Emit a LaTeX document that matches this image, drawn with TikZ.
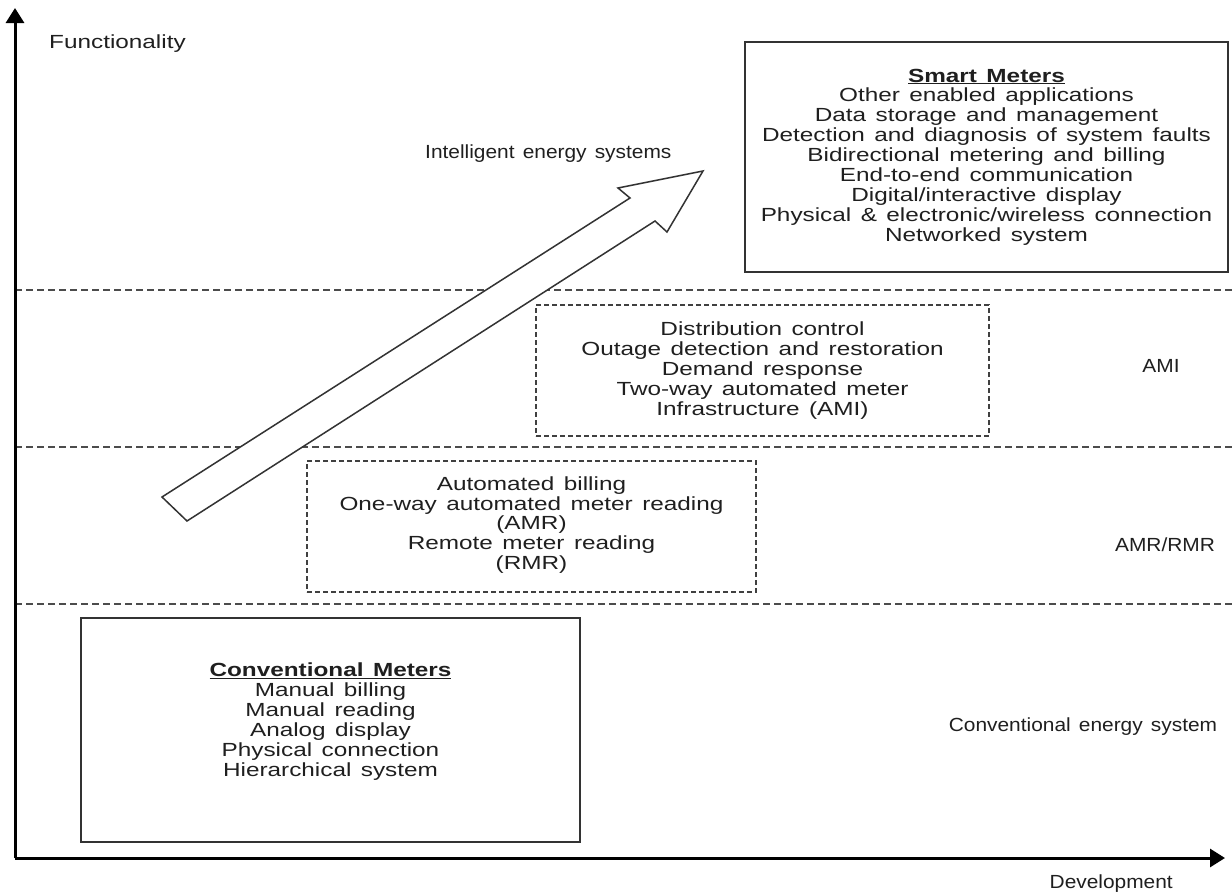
\documentclass[tikz,border=0pt]{standalone}
\usepackage{fontspec}
\setmainfont{Liberation Sans}[FakeStretch=1.28,WordSpace=1.4]
\newfontfamily\sidefam{Liberation Sans}[FakeStretch=1.1,WordSpace=1.4]
\usetikzlibrary{arrows.meta}
\begin{document}
\begin{tikzpicture}[x=1pt,y=-1pt,
  font=\fontsize{19}{19.9}\selectfont,
  axis/.style={line width=3pt, draw=black, -{Triangle[width=18pt,length=15pt]}},
  band/.style={draw=black!70, line width=1.2pt, dash pattern=on 7pt off 4pt},
  solidbox/.style={draw=black!80, line width=1.5pt, rectangle, inner sep=0pt},
  dashbox/.style={draw=black!75, line width=1.2pt, dash pattern=on 5pt off 3pt, rectangle, inner sep=0pt},
  lbl/.style={align=center, inner sep=0pt, text=black!88},
  side/.style={lbl, font=\sidefam\fontsize{19}{20}\selectfont},
  bigarrow/.style={draw=black!80, line width=1.5pt, fill=white, line join=miter}
]
\useasboundingbox (0,0) rectangle (1232,894);

% separators
\coordinate (s1L) at (15,290);  \coordinate (s1R) at (1232,290);
\coordinate (s2L) at (15,447);  \coordinate (s2R) at (1232,447);
\coordinate (s3L) at (15,604);  \coordinate (s3R) at (1232,604);
\draw[band] (s1L) -- (s1R);
\draw[band] (s2L) -- (s2R);
\draw[band] (s3L) -- (s3R);

% axes
\coordinate (O) at (15,858);
\coordinate (ytip) at (15,8);
\coordinate (xtip) at (1225,858);
\draw[axis] (O) -- (ytip);
\draw[axis] (O) -- (xtip);
\node[lbl, anchor=west] (func) at (49,44) {Functionality};
\node[side, anchor=east] (dev) at (1173,884) {Development};

% boxes
\node[solidbox, minimum width=483pt, minimum height=230pt] (smartbox) at (986.5,157) {};
\node[dashbox, minimum width=453pt, minimum height=131pt] (amibox) at (762.5,370.5) {};
\node[dashbox, minimum width=449pt, minimum height=131pt] (amrbox) at (531.5,526.5) {};
\node[solidbox, minimum width=499pt, minimum height=224pt] (convbox) at (330.5,730) {};

\node[lbl] (smarttxt) at (986.5,157) {\underline{\textbf{Smart Meters}}\\
Other enabled applications\\
Data storage and management\\
Detection and diagnosis of system faults\\
Bidirectional metering and billing\\
End-to-end communication\\
Digital/interactive display\\
Physical \& electronic/wireless connection\\
Networked system};

\node[lbl] (amitxt) at (762.5,370.5) {Distribution control\\
Outage detection and restoration\\
Demand response\\
Two-way automated meter\\
Infrastructure (AMI)};

\node[lbl] (amrtxt) at (531.5,525) {Automated billing\\
One-way automated meter reading\\
(AMR)\\
Remote meter reading\\
(RMR)};

\node[lbl] (convtxt) at (330.5,721.5) {\underline{\textbf{Conventional Meters}}\\
Manual billing\\
Manual reading\\
Analog display\\
Physical connection\\
Hierarchical system};

% big arrow
\coordinate (a1) at (162,497);
\coordinate (a2) at (630,198);
\coordinate (a3) at (618,188);
\coordinate (a4) at (703,171);
\coordinate (a5) at (667,232);
\coordinate (a6) at (655,221);
\coordinate (a7) at (187,521);
\draw[bigarrow] (a1) -- (a2) -- (a3) -- (a4) -- (a5) -- (a6) -- (a7) -- cycle;

% side labels
\node[side, anchor=west] (intel) at (425,154) {Intelligent energy systems};
\node[side] (ami) at (1161,366) {AMI};
\node[side] (amr) at (1165,545) {AMR/RMR};
\node[side] (conv) at (1083,727) {Conventional energy system};
\end{tikzpicture}
\end{document}
